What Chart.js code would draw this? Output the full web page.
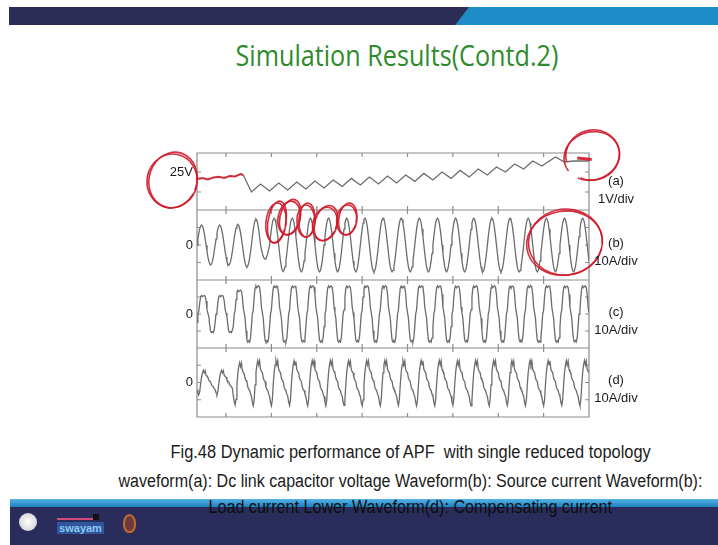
<!DOCTYPE html>
<html lang="en">
<head>
<meta charset="UTF-8">
<title>Simulation Results(Contd.2)</title>
<script src="https://cdn.jsdelivr.net/npm/chart.js"></script>
<style>
  * { box-sizing: border-box; margin: 0; padding: 0; }
  body {
    width: 718px; height: 545px; overflow: hidden; position: relative;
    background: #fff; font-family: 'Liberation Sans', Arial, sans-serif; color: #1b1b1b;
  }
  .topbar { position: absolute; left: 9px; top: 7px; width: 709px; height: 18px; background: #1e8cc7; }
  .topbar .dark {
    position: absolute; left: 0; top: 0; width: 460px; height: 100%; background: #2b2d56;
    clip-path: polygon(0 0, 100% 0, 97% 100%, 0 100%);
  }
  .fit { position: absolute; white-space: nowrap; transform-origin: center; }
  #title { top: 35px; font-family: 'Open Sans', sans-serif; font-size: 29px; color: #2e8b2c; }
  #chartBox { position: absolute; left: 140px; top: 125px; width: 520px; height: 310px; }
  .div-label { position: absolute; left: 589px; width: 54px; text-align: center; font-size: 13px; line-height: 18px; color: #1b1b1b; }
  .cap { font-size: 18px; color: #1b1b1b; }
  .footer-stripe { position: absolute; left: 10px; top: 499px; width: 708px; height: 8px; background: linear-gradient(#56b4e6, #1c7fbf); }
  .footer { position: absolute; left: 10px; top: 507px; width: 708px; height: 38px; background: #2a2d5c; }
  .logo-disc { position: absolute; left: 19px; top: 513px; width: 18px; height: 18px; border-radius: 50%; background: radial-gradient(#ffffff, #c9c9cf); }
  .logo-sw { position: absolute; left: 57px; top: 522px; width: 47px; height: 12px; background: #31549a; color: #8cc8f5; font-size: 11px; font-weight: bold; line-height: 12px; text-align: center; }
  .logo-sw-bar { position: absolute; left: 57px; top: 518px; width: 36px; height: 2px; background: #d04a7a; }
  .logo-sw-dot { position: absolute; left: 93px; top: 514px; width: 6px; height: 6px; background: #111; }
  .logo-flame { position: absolute; left: 123px; top: 514px; width: 13px; height: 19px; border: 2px solid #c46a32; border-radius: 50% 50% 45% 45%; background: #6a3b3a; }
</style>
</head>
<body>
  <div class="topbar"><div class="dark"></div></div>
  <div id="title" class="fit" data-cx="397" data-w="323">Simulation Results(Contd.2)</div>

  <div id="chartBox"><canvas id="scope" width="520" height="310"></canvas></div>

  <div class="div-label" style="top:172px">(a)<br>1V/div</div>
  <div class="div-label" style="top:234px">(b)<br>10A/div</div>
  <div class="div-label" style="top:303px">(c)<br>10A/div</div>
  <div class="div-label" style="top:371px">(d)<br>10A/div</div>

  <div class="footer-stripe"></div>
  <div class="footer"></div>
  <div class="logo-disc"></div>
  <div class="logo-sw-bar"></div>
  <div class="logo-sw-dot"></div>
  <div class="logo-sw">swayam</div>
  <div class="logo-flame"></div>

  <div class="fit cap" style="top:442px" data-cx="410" data-w="480">Fig.48 Dynamic performance of APF&nbsp; with single reduced topology</div>
  <div class="fit cap" style="top:471px" data-cx="410" data-w="584">waveform(a): Dc link capacitor voltage Waveform(b): Source current Waveform(b):</div>
  <div class="fit cap" style="top:497px; color:#0d0d0d" data-cx="410" data-w="404">Load current Lower Waveform(d): Compensating current</div>

<script>
  // time axis in ms, scope ticks every 50 ms
  const endMs = 432;
  const xTicks = [32, 82, 132, 182, 232, 282, 332, 382, 432];

  // (a) dc link capacitor voltage, V
  const dcTime  = [0, 6, 12, 18, 24, 30, 36, 42, 48, 51,
                   60, 70, 80, 90, 100, 110, 120, 130, 140, 150, 160, 170, 180, 190, 200, 210,
                   220, 230, 240, 250, 260, 270, 280, 290, 300, 310, 320, 330, 340, 350, 360,
                   370, 380, 395, 405, 415, 432];
  const dcVolts = [24.65, 24.7, 24.63, 24.72, 24.76, 24.7, 24.8, 24.78, 24.9, 24.85,
                   24.0, 24.4, 24.05, 24.45, 24.1, 24.5, 24.15, 24.55, 24.2, 24.6, 24.28, 24.68, 24.35, 24.75, 24.4, 24.8,
                   24.45, 24.85, 24.53, 24.93, 24.6, 25.0, 24.68, 25.08, 24.75, 25.15, 24.85, 25.25, 25.0, 25.4, 25.15,
                   25.55, 25.3, 25.75, 25.5, 25.55, 25.55];

  // one 20 ms cycle of each current, normalised (1 ms steps)
  const cycleMs = 20;
  const srcShape  = [0, 0.31, 0.59, 0.81, 0.95, 1, 0.95, 0.81, 0.59, 0.31,
                     0, -0.31, -0.59, -0.81, -0.95, -1, -0.95, -0.81, -0.59, -0.31];
  const loadShape = [-0.45, 0, 0.15, 0.6, 0.93, 1, 0.94, 0.98, 1, 0.95,
                     0.7, 0.25, 0.05, -0.15, -0.6, -0.93, -1, -0.95, -1, -0.85];
  const compShape = [-0.6, -0.85, -1, -0.75, -0.1, 0.45, 0.8, 1, 0.8, 0.98,
                     0.6, 0.5, 0.45, 0.2, 0.1, 0.05, -0.2, -0.3, -0.35, -0.5];

  // peak amplitude per cycle (A), positive and negative half
  const srcPos  = [11.4, 11.4, 11.8, 14.8, 15.4, 15.4, 15.3, 15.4, 15.3, 15.4, 15.4, 15.3, 15.4, 15.4, 15.3, 15.4, 15.4, 15.3, 15.4, 15.4, 15.3, 15.4];
  const srcNeg  = [11.4, 11.6, 12.6, 8.0, 15.2, 15.4, 15.4, 15.3, 15.4, 15.4, 15.3, 15.4, 15.4, 15.3, 15.4, 15.4, 15.3, 15.4, 15.4, 15.3, 15.4, 15.4];
  const loadPos = [10.9, 10.9, 14.0, 16.5, 16.5, 16.4, 16.5, 16.5, 16.4, 16.5, 16.5, 16.4, 16.5, 16.5, 16.4, 16.5, 16.5, 16.4, 16.5, 16.5, 16.4, 16.5];
  const loadNeg = [10.9, 10.9, 16.5, 16.5, 16.5, 16.4, 16.5, 16.5, 16.4, 16.5, 16.5, 16.4, 16.5, 16.5, 16.4, 16.5, 16.5, 16.4, 16.5, 16.5, 16.4, 16.5];
  const compPos = [7.0, 7.0, 11.5, 12.8, 12.8, 12.6, 12.8, 12.8, 12.6, 12.8, 12.8, 12.6, 12.8, 12.8, 12.6, 12.8, 12.8, 12.6, 12.8, 12.8, 12.6, 12.8];
  const compNeg = [7.0, 7.0, 13.0, 13.5, 13.5, 13.3, 13.5, 13.5, 13.3, 13.5, 13.5, 13.3, 13.5, 13.5, 13.3, 13.5, 13.5, 13.3, 13.5, 13.5, 13.3, 13.5];

  const trace = '#6c6c6c';
  const pen = 'rgba(206, 28, 44, 0.92)';

  function buildWave(shape, pos, neg) {
    const pts = [];
    for (let t = 0; t <= endMs; t++) {
      const k = Math.floor(t / cycleMs);
      const s = shape[t % cycleMs];
      pts.push({ x: t, y: s * (s >= 0 ? pos[k] : neg[k]) });
    }
    return pts;
  }

  // scale every text line to the width it has on the slide
  document.querySelectorAll('.fit').forEach(el => {
    const w = el.offsetWidth;
    el.style.left = (+el.dataset.cx - w / 2) + 'px';
    el.style.transform = 'scaleX(' + (+el.dataset.w / w) + ')';
  });

  const yTicks = { ya: [24, 25], yb: [-10, 0, 10], yc: [-10, 0, 10], yd: [-10, 0, 10] };
  const yLabel = { ya: '25V', yb: '0', yc: '0', yd: '0' };
  const yWeight = { ya: 57, yb: 70, yc: 68, yd: 69 };

  function panelScale(id, min, max, labelAt) {
    return {
      type: 'linear', position: 'left', stack: 'scope', stackWeight: yWeight[id],
      min: min, max: max,
      afterBuildTicks: s => { s.ticks = [{ value: labelAt }]; },
      afterFit: s => { s.width = 57; },
      grid: { display: false, drawTicks: false }, border: { display: false },
      ticks: { padding: 4, color: '#1b1b1b', font: { family: 'Liberation Sans', size: 13 },
               callback: () => yLabel[id] }
    };
  }

  // frames and inward tick marks of the four traces
  const scopeFrame = {
    id: 'scopeFrame',
    beforeDatasetsDraw(chart) {
      const { ctx, chartArea: ca, scales } = chart;
      ctx.save();
      ctx.strokeStyle = '#8c8c8c';
      ctx.lineWidth = 1.2;
      ctx.beginPath();
      ['ya', 'yb', 'yc', 'yd'].forEach(id => {
        const s = scales[id];
        ctx.rect(ca.left, s.top, ca.right - ca.left, s.bottom - s.top);
        xTicks.forEach(v => {
          const px = scales.x.getPixelForValue(v);
          ctx.moveTo(px, s.top); ctx.lineTo(px, s.top + 4);
          ctx.moveTo(px, s.bottom); ctx.lineTo(px, s.bottom - 4);
        });
        yTicks[id].forEach(v => {
          const py = s.getPixelForValue(v);
          ctx.moveTo(ca.left, py); ctx.lineTo(ca.left + 4, py);
          ctx.moveTo(ca.right, py); ctx.lineTo(ca.right - 4, py);
        });
      });
      ctx.stroke();
      ctx.restore();
    }
  };

  // the lecturer's red pen marks, placed in data coordinates
  const penMarks = [
    { y: 'ya', x: -27.5, v: 24.55, rx: 25, ry: 27, rot: 0.2 },
    { y: 'ya', x: 435, v: 25.8, rx: 28, ry: 24, rot: -0.3, from: 0.9, to: 2.75 },
    { y: 'yb', x: 87, v: 12.6, rx: 10, ry: 20, rot: 0.1 },
    { y: 'yb', x: 101.5, v: 15.4, rx: 11, ry: 17, rot: 0.2 },
    { y: 'yb', x: 120, v: 13.7, rx: 9, ry: 16, rot: 0 },
    { y: 'yb', x: 141, v: 12, rx: 12, ry: 17, rot: 0.25 },
    { y: 'yb', x: 165, v: 14.3, rx: 10, ry: 15, rot: 0.1 },
    { y: 'yb', x: 405, v: 1.1, rx: 38, ry: 32, rot: -0.15 }
  ];
  const penStrokes = [{ y: 'ya', x0: 419, v0: 25.7, x1: 435, v1: 25.62 }];

  const penPlugin = {
    id: 'penPlugin',
    afterDatasetsDraw(chart) {
      const { ctx, scales } = chart;
      ctx.save();
      ctx.strokeStyle = pen;
      ctx.lineWidth = 1.6;
      penMarks.forEach(m => {
        const cx = scales.x.getPixelForValue(m.x);
        const cy = scales[m.y].getPixelForValue(m.v);
        const a0 = (m.from || 0) * Math.PI, a1 = (m.to || 2.08) * Math.PI;
        ctx.beginPath();
        ctx.ellipse(cx, cy, m.rx, m.ry, m.rot, a0, a1);
        ctx.stroke();
        ctx.beginPath();
        ctx.ellipse(cx + 1, cy - 1, m.rx - 1, m.ry + 1, m.rot + 0.06, a0 + 0.3, a1 - 0.1);
        ctx.stroke();
      });
      ctx.lineWidth = 3;
      penStrokes.forEach(p => {
        ctx.beginPath();
        ctx.moveTo(scales.x.getPixelForValue(p.x0), scales[p.y].getPixelForValue(p.v0));
        ctx.lineTo(scales.x.getPixelForValue(p.x1), scales[p.y].getPixelForValue(p.v1));
        ctx.stroke();
      });
      ctx.restore();
    }
  };

  const lineStyle = { type: 'line', borderColor: trace, borderWidth: 1.3, pointRadius: 0, tension: 0, fill: false };

  new Chart(document.getElementById('scope'), {
    type: 'line',
    data: {
      datasets: [
        Object.assign({}, lineStyle, {
          yAxisID: 'ya',
          data: dcTime.map((t, i) => ({ x: t, y: dcVolts[i] })),
          segment: {
            borderColor: c => c.p1.parsed.x <= 51 ? pen : trace,
            borderWidth: c => c.p1.parsed.x <= 51 ? 2 : 1.3
          }
        }),
        Object.assign({}, lineStyle, { yAxisID: 'yb', data: buildWave(srcShape, srcPos, srcNeg) }),
        Object.assign({}, lineStyle, { yAxisID: 'yc', data: buildWave(loadShape, loadPos, loadNeg) }),
        Object.assign({}, lineStyle, { yAxisID: 'yd', data: buildWave(compShape, compPos, compNeg) })
      ]
    },
    options: {
      responsive: false,
      animation: false,
      events: [],
      layout: { padding: { left: 0, top: 28, right: 71, bottom: 18 } },
      plugins: { legend: { display: false }, tooltip: { enabled: false } },
      // stacked left axes are laid out last-first, so the bottom trace is listed first
      scales: {
        x: { type: 'linear', min: 0, max: endMs, display: false },
        yd: panelScale('yd', -20, 20, 0),
        yc: panelScale('yc', -20, 20, 0),
        yb: panelScale('yb', -20, 20, 0),
        ya: panelScale('ya', 23.1, 25.95, 25)
      }
    },
    plugins: [scopeFrame, penPlugin]
  });
</script>
</body>
</html>
